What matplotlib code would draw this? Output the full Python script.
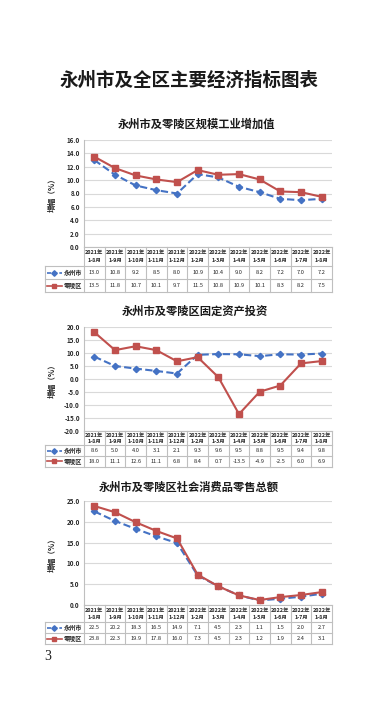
import matplotlib
matplotlib.use('Agg')
import matplotlib.pyplot as plt
from matplotlib.transforms import blended_transform_factory
from matplotlib.ticker import FormatStrFormatter

plt.rcParams['font.family'] = ['Noto Sans CJK SC', 'DejaVu Sans']

# ---------------- data ----------------
main_title = '永州市及全区主要经济指标图表'
period_year = ['2021年'] * 5 + ['2022年'] * 7
period_month = ['1-8月', '1-9月', '1-10月', '1-11月', '1-12月', '1-2月',
                '1-3月', '1-4月', '1-5月', '1-6月', '1-7月', '1-8月']
series_names = ['永州市', '零陵区']

title_ind = '永州市及零陵区规模工业增加值'
ind_yz = [13.0, 10.8, 9.2, 8.5, 8.0, 10.9, 10.4, 9.0, 8.2, 7.2, 7.0, 7.2]
ind_ll = [13.5, 11.8, 10.7, 10.1, 9.7, 11.5, 10.8, 10.9, 10.1, 8.3, 8.2, 7.5]

title_inv = '永州市及零陵区固定资产投资'
inv_yz = [8.6, 5.0, 4.0, 3.1, 2.1, 9.3, 9.6, 9.5, 8.8, 9.5, 9.4, 9.8]
inv_ll = [18.0, 11.1, 12.6, 11.1, 6.8, 8.4, 0.7, -13.5, -4.9, -2.5, 6.0, 6.9]

title_ret = '永州市及零陵区社会消费品零售总额'
ret_yz = [22.5, 20.2, 18.3, 16.5, 14.9, 7.1, 4.5, 2.3, 1.1, 1.5, 2.0, 2.7]
ret_ll = [23.8, 22.3, 19.9, 17.8, 16.0, 7.3, 4.5, 2.3, 1.2, 1.9, 2.4, 3.1]

ylabel = '增幅（%）'
page_no = '3'

# ---------------- layout ----------------
W, H = 377, 718
fig = plt.figure(figsize=(W / 100, H / 100), dpi=100)
fig.patch.set_facecolor('white')


def fx(x):
    return x / W


def fy(y):
    return 1 - y / H


BLUE = '#4472C4'
RED = '#C0504D'
GRID = '#D9D9D9'
BORDER = '#BFBFBF'
TXT = '#262626'

charts = [
    dict(title=title_ind, yz=ind_yz, ll=ind_ll, ylim=(0, 16), step=2,
         top=140, bot=247, ty=124, tx=196, rows=(247, 266, 279, 292)),
    dict(title=title_inv, yz=inv_yz, ll=inv_ll, ylim=(-20, 20), step=5,
         top=327, bot=431, ty=311, tx=195, rows=(431, 445, 456, 467)),
    dict(title=title_ret, yz=ret_yz, ll=ret_ll, ylim=(0, 25), step=5,
         top=501, bot=605, ty=487, tx=189, rows=(605, 622, 633, 644)),
]

fig.text(fx(189), fy(80), main_title, ha='center', va='center',
         fontsize=13.3, fontweight='bold', color='#1a1a1a')

XL, XR = 84, 332
LEFTCOL = 45
colw = (XR - XL) / 12.0
xleft_data = -0.5 - (XL - LEFTCOL) / colw

for c in charts:
    ax = fig.add_axes([fx(XL), fy(c['bot']), fx(XR) - fx(XL),
                       (c['bot'] - c['top']) / H])
    x = list(range(len(period_month)))
    ax.plot(x, c['yz'], color=BLUE, ls='--', dashes=(3.5, 1.6), lw=1.5,
            marker='D', ms=3.2, zorder=3)
    ax.plot(x, c['ll'], color=RED, ls='-', lw=1.5, marker='s', ms=4.3,
            zorder=4)
    ax.set_xlim(-0.5, 11.5)
    lo, hi = c['ylim']
    ax.set_ylim(lo, hi)
    ticks = [lo + i * c['step'] for i in range(int((hi - lo) / c['step']) + 1)]
    ax.set_yticks(ticks)
    ax.yaxis.set_major_formatter(FormatStrFormatter('%.1f'))
    ax.tick_params(axis='y', length=0, pad=3, labelsize=4.5, colors=TXT)
    for lab in ax.get_yticklabels():
        lab.set_fontweight('bold')
    ax.set_xticks([])
    ax.yaxis.grid(True, color=GRID, lw=0.8)
    ax.set_axisbelow(True)
    for s in ['top', 'right', 'bottom']:
        ax.spines[s].set_visible(False)
    ax.spines['left'].set_color(BORDER)
    ax.spines['left'].set_linewidth(0.8)
    ax.set_ylabel(ylabel, fontsize=5.5, fontweight='bold', color=TXT)
    ax.yaxis.set_label_coords((57 - XL) / (XR - XL), 0.5)

    fig.text(fx(c['tx']), fy(c['ty']), c['title'], ha='center', va='center',
             fontsize=8.1, fontweight='bold', color='#1a1a1a')

    # ---- data table ----
    tr = blended_transform_factory(ax.transData, fig.transFigure)
    r0, r1, r2, r3 = c['rows']
    kw = dict(transform=tr, color=BORDER, lw=0.8, clip_on=False)
    ax.plot([-0.5, 11.5], [fy(r0), fy(r0)], **kw)
    for r in (r1, r2, r3):
        ax.plot([xleft_data, 11.5], [fy(r), fy(r)], **kw)
    for k in range(13):
        ax.plot([-0.5 + k, -0.5 + k], [fy(r0), fy(r3)], **kw)
    ax.plot([xleft_data, xleft_data], [fy(r1), fy(r3)], **kw)

    for i in range(len(period_month)):
        ax.text(i, fy(r0 + (r1 - r0) * 0.3), period_year[i], transform=tr,
                ha='center', va='center', fontsize=3.9, color=TXT,
                fontweight='bold', clip_on=False)
        ax.text(i, fy(r0 + (r1 - r0) * 0.72), period_month[i], transform=tr,
                ha='center', va='center', fontsize=3.9, color=TXT,
                fontweight='bold', clip_on=False)
        ax.text(i, fy((r1 + r2) / 2), '%.1f' % c['yz'][i], transform=tr,
                ha='center', va='center', fontsize=4.1, color=TXT,
                clip_on=False)
        ax.text(i, fy((r2 + r3) / 2), '%.1f' % c['ll'][i], transform=tr,
                ha='center', va='center', fontsize=4.1, color=TXT,
                clip_on=False)

    # legend keys in table
    lx0 = xleft_data + 0.08
    lx1 = xleft_data + 0.8
    ym1 = fy((r1 + r2) / 2)
    ym2 = fy((r2 + r3) / 2)
    ax.plot([lx0, lx1], [ym1, ym1], transform=tr, color=BLUE, ls='--',
            dashes=(2.5, 1.2), lw=1.2, clip_on=False)
    ax.plot([(lx0 + lx1) / 2], [ym1], transform=tr, color=BLUE, marker='D',
            ms=2.8, clip_on=False)
    ax.plot([lx0, lx1], [ym2, ym2], transform=tr, color=RED, lw=1.2,
            clip_on=False)
    ax.plot([(lx0 + lx1) / 2], [ym2], transform=tr, color=RED, marker='s',
            ms=3.3, clip_on=False)
    ax.text(lx1 + 0.1, ym1, series_names[0], transform=tr, ha='left',
            va='center', fontsize=4.4, color=TXT, fontweight='bold',
            clip_on=False)
    ax.text(lx1 + 0.1, ym2, series_names[1], transform=tr, ha='left',
            va='center', fontsize=4.4, color=TXT, fontweight='bold',
            clip_on=False)

fig.text(fx(48), fy(657), page_no, ha='center', va='center', fontsize=10,
         family=['Liberation Serif', 'DejaVu Serif'], color='#1a1a1a')

fig.savefig('out.png', dpi=100, facecolor='white')
